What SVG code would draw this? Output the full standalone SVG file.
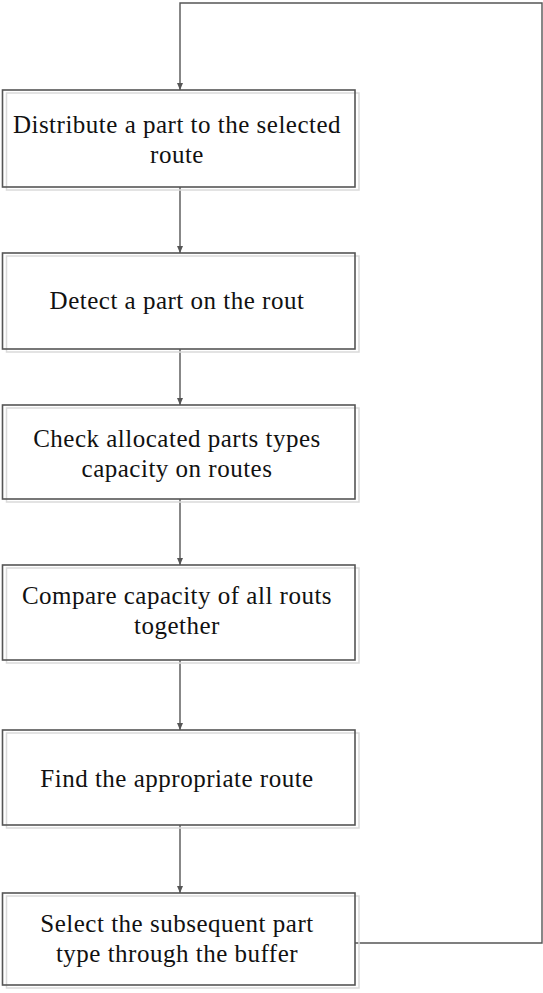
<svg xmlns="http://www.w3.org/2000/svg" width="543" height="993" viewBox="0 0 543 993">
  <style>
    .shadow { fill: none; stroke: #dadada; stroke-width: 1.5; }
    .box { fill: none; stroke: #555555; stroke-width: 1.6; }
    .label { font-family: "Liberation Serif", "Times New Roman", serif; font-size: 25px; letter-spacing: 0.5px; fill: #111111; text-anchor: middle; }
    .link { fill: none; stroke: #555555; stroke-width: 1.4; }
  </style>
  <defs>
    <marker id="arrow" markerWidth="8" markerHeight="8" refX="7" refY="4" orient="auto" markerUnits="userSpaceOnUse">
      <path d="M0,1 L7,4 L0,7 Z" fill="#555555"/>
    </marker>
  </defs>
  <rect width="543" height="993" fill="#ffffff"/>

  <g id="connectors">
    <path class="link" d="M355,943 H542 V3 H180 V90" marker-end="url(#arrow)"/>
    <path class="link" d="M180,187 V253" marker-end="url(#arrow)"/>
    <path class="link" d="M180,349 V405" marker-end="url(#arrow)"/>
    <path class="link" d="M180,499 V565" marker-end="url(#arrow)"/>
    <path class="link" d="M180,660 V730" marker-end="url(#arrow)"/>
    <path class="link" d="M180,825 V893" marker-end="url(#arrow)"/>
  </g>

  <g id="distribute">
    <rect class="shadow" x="6.5" y="93" width="352.5" height="97"/>
    <rect class="box" x="2.5" y="90" width="352.5" height="97"/>
    <text class="label" x="177" y="133">Distribute a part to the selected</text>
    <text class="label" x="177" y="163">route</text>
  </g>

  <g id="detect">
    <rect class="shadow" x="6.5" y="256" width="352.5" height="96"/>
    <rect class="box" x="2.5" y="253" width="352.5" height="96"/>
    <text class="label" x="177" y="309">Detect a part on the rout</text>
  </g>

  <g id="check">
    <rect class="shadow" x="6.5" y="408" width="352.5" height="94"/>
    <rect class="box" x="2.5" y="405" width="352.5" height="94"/>
    <text class="label" x="177" y="447">Check allocated parts types</text>
    <text class="label" x="177" y="477">capacity on routes</text>
  </g>

  <g id="compare">
    <rect class="shadow" x="6.5" y="568" width="352.5" height="95"/>
    <rect class="box" x="2.5" y="565" width="352.5" height="95"/>
    <text class="label" x="177" y="604">Compare capacity of all routs</text>
    <text class="label" x="177" y="634">together</text>
  </g>

  <g id="find">
    <rect class="shadow" x="6.5" y="733" width="352.5" height="95"/>
    <rect class="box" x="2.5" y="730" width="352.5" height="95"/>
    <text class="label" x="177" y="787">Find the appropriate route</text>
  </g>

  <g id="select">
    <rect class="shadow" x="6.5" y="896" width="352.5" height="92"/>
    <rect class="box" x="2.5" y="893" width="352.5" height="92"/>
    <text class="label" x="177" y="932">Select the subsequent part</text>
    <text class="label" x="177" y="962">type through the buffer</text>
  </g>
</svg>
